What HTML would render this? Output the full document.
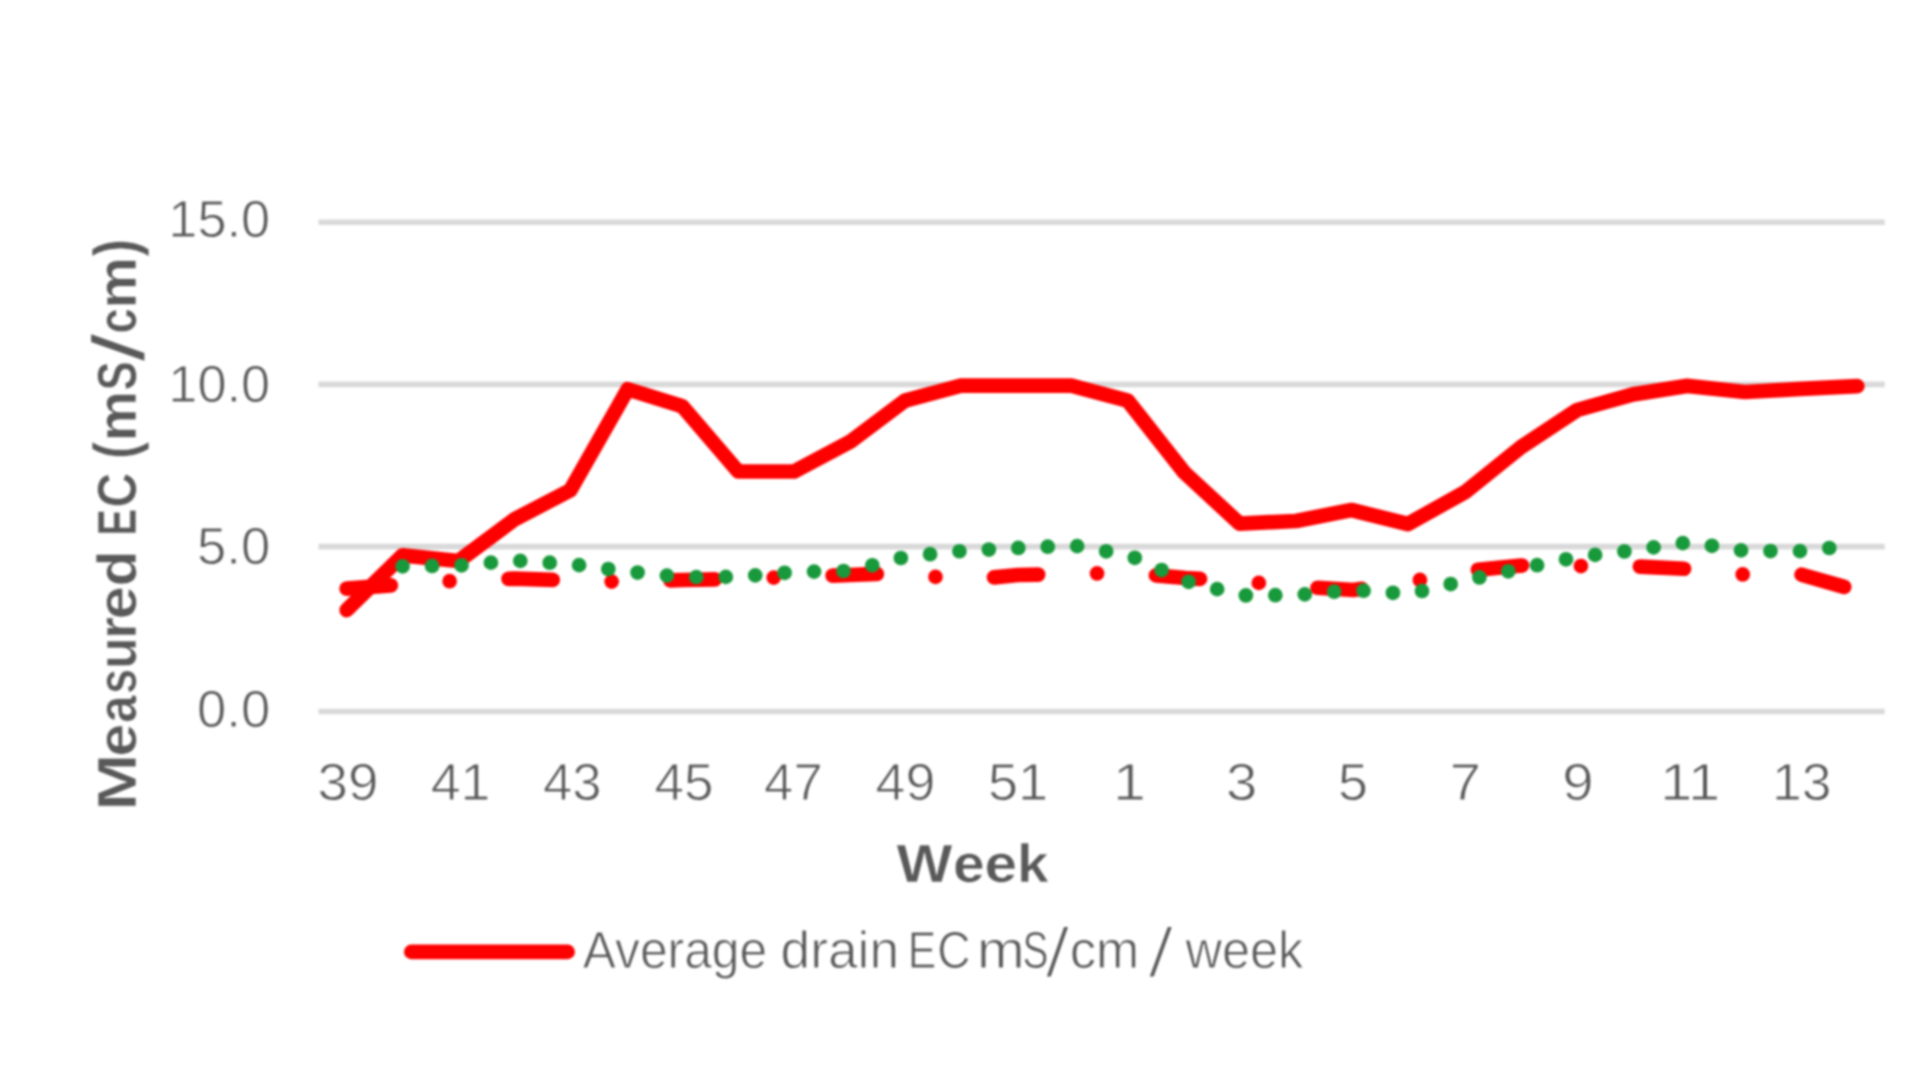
<!DOCTYPE html>
<html lang="en">
<head>
<meta charset="utf-8">
<title>Measured EC per week</title>
<style>
html,body{margin:0;padding:0;background:#ffffff;}
body{width:1920px;height:1079px;overflow:hidden;font-family:"Liberation Sans",sans-serif;}
svg{display:block;position:absolute;left:0;top:0;filter:blur(0.8px);}
text{font-family:"Liberation Sans",sans-serif;fill:#595959;stroke:#ffffff;stroke-width:0.9px;stroke-linejoin:round;}
.b{font-weight:bold;stroke-width:0.6px;}
</style>
</head>
<body>
<svg width="1920" height="1079" viewBox="0 0 1920 1079">
<rect x="0" y="0" width="1920" height="1079" fill="#ffffff"/>

<g stroke="#d9d9d9" stroke-width="5.6" fill="none">
<line x1="318.5" y1="222.3" x2="1884.7" y2="222.3"/>
<line x1="318.5" y1="384.4" x2="1884.7" y2="384.4"/>
<line x1="318.5" y1="546.6" x2="1884.7" y2="546.6"/>
<line x1="318.5" y1="711.5" x2="1884.7" y2="711.5"/>
</g>
<g font-size="51.0" text-anchor="end">
<text x="270.2" y="237.0" textLength="101.9" lengthAdjust="spacingAndGlyphs">15.0</text>
<text x="270.2" y="401.8" textLength="101.9" lengthAdjust="spacingAndGlyphs">10.0</text>
<text x="270.2" y="564.0" textLength="73.2" lengthAdjust="spacingAndGlyphs">5.0</text>
<text x="270.2" y="726.5" textLength="73.2" lengthAdjust="spacingAndGlyphs">0.0</text>
</g>
<text font-size="51.0" x="317.64" y="800.4" textLength="60.92" lengthAdjust="spacingAndGlyphs">39</text>
<text font-size="51.0" x="430.69" y="800.4" textLength="59.82" lengthAdjust="spacingAndGlyphs">41</text>
<text font-size="51.0" x="542.93" y="800.4" textLength="58.54" lengthAdjust="spacingAndGlyphs">43</text>
<text font-size="51.0" x="654.52" y="800.4" textLength="58.95" lengthAdjust="spacingAndGlyphs">45</text>
<text font-size="51.0" x="764.11" y="800.4" textLength="58.57" lengthAdjust="spacingAndGlyphs">47</text>
<text font-size="51.0" x="875.51" y="800.4" textLength="59.77" lengthAdjust="spacingAndGlyphs">49</text>
<text font-size="51.0" x="987.99" y="800.4" textLength="60.19" lengthAdjust="spacingAndGlyphs">51</text>
<text font-size="51.0" x="1113.10" y="800.4" textLength="32.96" lengthAdjust="spacingAndGlyphs">1</text>
<text font-size="51.0" x="1225.94" y="800.4" textLength="31.30" lengthAdjust="spacingAndGlyphs">3</text>
<text font-size="51.0" x="1337.99" y="800.4" textLength="29.99" lengthAdjust="spacingAndGlyphs">5</text>
<text font-size="51.0" x="1449.67" y="800.4" textLength="31.24" lengthAdjust="spacingAndGlyphs">7</text>
<text font-size="51.0" x="1562.38" y="800.4" textLength="31.40" lengthAdjust="spacingAndGlyphs">9</text>
<text font-size="51.0" x="1660.24" y="800.4" textLength="59.84" lengthAdjust="spacingAndGlyphs">11</text>
<text font-size="51.0" x="1772.11" y="800.4" textLength="59.49" lengthAdjust="spacingAndGlyphs">13</text>
<text class="b" font-size="54" x="896.51" y="882.0" textLength="55.95" lengthAdjust="spacingAndGlyphs">W</text>
<text class="b" font-size="54" x="952.92" y="882.0" textLength="31.66" lengthAdjust="spacingAndGlyphs">e</text>
<text class="b" font-size="54" x="984.43" y="882.0" textLength="32.60" lengthAdjust="spacingAndGlyphs">e</text>
<text class="b" font-size="54" x="1016.99" y="882.0" textLength="31.64" lengthAdjust="spacingAndGlyphs">k</text>
<text class="b" font-size="54.8" transform="translate(135.9,810.83) rotate(-90) scale(1,1.0)" textLength="57.19" lengthAdjust="spacingAndGlyphs">M</text>
<text class="b" font-size="54.8" transform="translate(135.9,756.38) rotate(-90) scale(1,1.0)" textLength="32.77" lengthAdjust="spacingAndGlyphs">e</text>
<text class="b" font-size="54.8" transform="translate(135.9,722.70) rotate(-90) scale(1,1.0)" textLength="27.26" lengthAdjust="spacingAndGlyphs">a</text>
<text class="b" font-size="54.8" transform="translate(135.9,693.87) rotate(-90) scale(1,1.0)" textLength="24.74" lengthAdjust="spacingAndGlyphs">s</text>
<text class="b" font-size="54.8" transform="translate(135.9,669.04) rotate(-90) scale(1,1.0)" textLength="31.62" lengthAdjust="spacingAndGlyphs">u</text>
<text class="b" font-size="54.8" transform="translate(135.9,638.99) rotate(-90) scale(1,1.0)" textLength="22.04" lengthAdjust="spacingAndGlyphs">r</text>
<text class="b" font-size="54.8" transform="translate(135.9,619.41) rotate(-90) scale(1,1.0)" textLength="33.33" lengthAdjust="spacingAndGlyphs">e</text>
<text class="b" font-size="54.8" transform="translate(135.9,586.55) rotate(-90) scale(1,1.0)" textLength="36.10" lengthAdjust="spacingAndGlyphs">d</text>
<text class="b" font-size="54.8" transform="translate(135.9,535.79) rotate(-90) scale(1,1.0)" textLength="26.70" lengthAdjust="spacingAndGlyphs">E</text>
<text class="b" font-size="54.8" transform="translate(135.9,507.43) rotate(-90) scale(1,1.0)" textLength="34.84" lengthAdjust="spacingAndGlyphs">C</text>
<text class="b" font-size="54.8" transform="translate(135.9,459.28) rotate(-90) scale(1,1.1)" textLength="17.62" lengthAdjust="spacingAndGlyphs">(</text>
<text class="b" font-size="54.8" transform="translate(135.9,441.18) rotate(-90) scale(1,1.0)" textLength="50.32" lengthAdjust="spacingAndGlyphs">m</text>
<text class="b" font-size="54.8" transform="translate(135.9,390.38) rotate(-90) scale(1,1.0)" textLength="29.26" lengthAdjust="spacingAndGlyphs">S</text>
<text class="b" font-size="54.8" transform="translate(135.9,333.40) rotate(-90) scale(1,1.0)" textLength="25.18" lengthAdjust="spacingAndGlyphs">c</text>
<text class="b" font-size="54.8" transform="translate(135.9,308.68) rotate(-90) scale(1,1.0)" textLength="51.80" lengthAdjust="spacingAndGlyphs">m</text>
<text class="b" font-size="54.8" transform="translate(135.9,256.39) rotate(-90) scale(1,1.1)" textLength="17.62" lengthAdjust="spacingAndGlyphs">)</text>
<polygon points="144.4,360.7 144.4,352.9 91.1,334.3 91.1,342.1" fill="#595959"/>
<polyline points="346.7,588.6 402.6,584.5 458.6,580.6 514.5,578.6 570.4,580.5 626.3,582.0 682.3,580.0 738.2,579.0 794.1,576.8 850.1,575.0 906.0,572.8 961.9,580.5 1017.9,575.0 1073.8,573.8 1129.7,573.0 1185.7,578.0 1241.6,581.3 1297.5,586.5 1353.4,590.0 1409.4,582.0 1465.3,571.0 1521.2,565.5 1577.2,566.0 1633.1,566.2 1689.0,569.0 1745.0,574.7 1800.9,574.5 1856.8,590.5" fill="none" stroke="#ff0000" stroke-width="14.74" stroke-linecap="round" stroke-linejoin="round" stroke-dasharray="44.22 58.96 0 58.96"/>
<polyline points="346.7,610.1 402.6,555.3 458.6,561.0 514.5,519.4 570.4,490.2 627.7,389.3 682.3,406.2 738.2,471.5 794.1,471.5 850.1,441.8 905.0,400.6 960.9,385.7 1016.4,385.7 1071.3,385.7 1127.7,400.6 1184.2,472.4 1239.6,523.6 1296.0,521.0 1351.4,510.0 1407.9,524.0 1465.3,492.0 1521.2,447.0 1577.2,410.0 1633.1,394.4 1687.1,385.9 1745.0,392.0 1800.9,388.8 1857.3,386.1" fill="none" stroke="#ff0000" stroke-width="14.74" stroke-linecap="round" stroke-linejoin="round"/>
<polyline points="402.6,566.3 458.6,565.6 514.5,560.5 570.4,564.0 626.3,571.4 682.3,577.2 738.2,576.8 794.1,572.0 850.1,570.9 906.0,556.7 961.9,551.0 1017.9,548.0 1073.8,545.5 1129.7,555.5 1185.7,581.0 1241.6,595.5 1297.5,595.0 1353.4,590.0 1409.4,594.0 1465.3,580.5 1521.2,568.5 1577.2,557.0 1633.1,550.4 1689.0,542.2 1745.0,551.0 1800.9,551.1 1856.8,545.0" fill="none" stroke="#18993b" stroke-width="14.74" stroke-linecap="round" stroke-linejoin="round" stroke-dasharray="0 29.485"/>
<line x1="411.3" y1="951.9" x2="567.6" y2="951.9" stroke="#ff0000" stroke-width="14.74" stroke-linecap="round"/>
<text font-size="51.0" x="582.80" y="968.2" textLength="184.40" lengthAdjust="spacingAndGlyphs">Average</text>
<text font-size="51.0" x="780.53" y="968.2" textLength="118.57" lengthAdjust="spacingAndGlyphs">drain</text>
<text font-size="51.0" x="907.85" y="968.2" textLength="28.42" lengthAdjust="spacingAndGlyphs">E</text>
<text font-size="51.0" x="937.23" y="968.2" textLength="33.33" lengthAdjust="spacingAndGlyphs">C</text>
<text font-size="51.0" x="976.99" y="968.2" textLength="47.71" lengthAdjust="spacingAndGlyphs">m</text>
<text font-size="51.0" x="1022.53" y="968.2" textLength="25.93" lengthAdjust="spacingAndGlyphs">S</text>
<text font-size="51.0" x="1069.69" y="968.2" textLength="26.46" lengthAdjust="spacingAndGlyphs">c</text>
<text font-size="51.0" x="1095.94" y="968.2" textLength="43.17" lengthAdjust="spacingAndGlyphs">m</text>
<text font-size="51.0" x="1185.41" y="968.2" textLength="117.97" lengthAdjust="spacingAndGlyphs">week</text>
<polygon points="1046.9,976.6 1050.8000000000002,976.6 1068.0,926.9 1064.1,926.9" fill="#595959"/>
<polygon points="1149.8,976.6 1153.7,976.6 1171.7,926.9 1167.8,926.9" fill="#595959"/>
</svg>
</body>
</html>
